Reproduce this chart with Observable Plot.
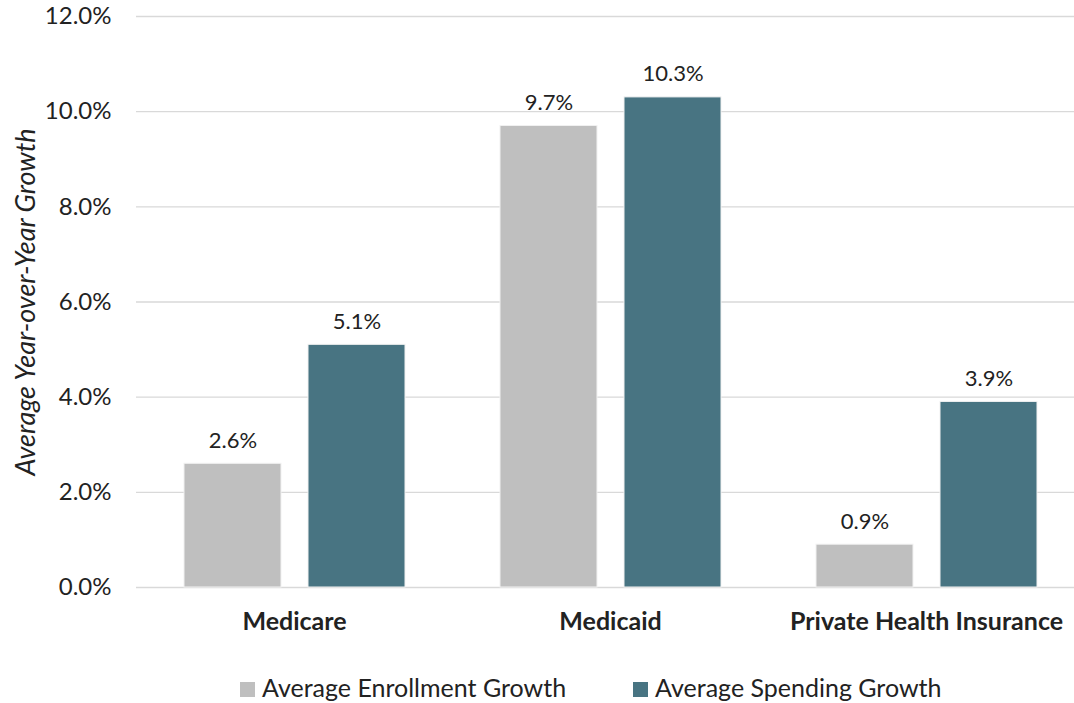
<!DOCTYPE html>
<html>
<head>
<meta charset="utf-8">
<script src="https://cdn.jsdelivr.net/npm/d3@7"></script>
<script src="https://cdn.jsdelivr.net/npm/@observablehq/plot@0.6"></script>
<style>
  html, body { margin: 0; padding: 0; background: #fff; }
  body { width: 1074px; height: 703px; overflow: hidden; font-family: Lato, "Open Sans", sans-serif; }
  #chart { width: 1074px; height: 645px; overflow: hidden; }
  #chart svg { max-width: none !important; }
  #legend { display: flex; align-items: center; margin-left: 240px; margin-top: 28px; height: 28px; line-height: 28px; font-size: 25px; color: #222; white-space: nowrap; }
  .item { display: flex; align-items: center; margin-right: 67px; }
  .sw { width: 15px; height: 15px; margin-right: 7px; display: inline-block; position: relative; top: 2px; }
</style>
</head>
<body>
<div id="chart"></div>
<div id="legend"></div>
<script>
const categories = ["Medicare", "Medicaid", "Private Health Insurance"];
const seriesNames = ["Average Enrollment Growth", "Average Spending Growth"];
const enrollment = [2.6, 9.7, 0.9];
const spending = [5.1, 10.3, 3.9];
const yTicks = [0, 2, 4, 6, 8, 10, 12];
const colors = ["#BFBFBF", "#487482"];
const yTitle = "Average Year-over-Year Growth";

const data = [];
categories.forEach((c, i) => {
  data.push({category: c, series: seriesNames[0], value: enrollment[i]});
  data.push({category: c, series: seriesNames[1], value: spending[i]});
});

const fmt = d => d.toFixed(1) + "%";

const chart = Plot.plot({
  width: 1084,
  height: 645,
  marginLeft: 135,
  marginRight: 0,
  marginTop: 16,
  marginBottom: 58,
  style: {fontFamily: "Lato, 'Open Sans', sans-serif", color: "#222", background: "#fff", maxWidth: "none"},
  fx: {domain: categories, padding: 0, label: null},
  x: {domain: seriesNames, paddingInner: 0.22, paddingOuter: 0.377, axis: null},
  y: {domain: [0, 12], label: null},
  color: {domain: seriesNames, range: colors},
  marks: [
    Plot.ruleY(yTicks, {stroke: "#d9d9d9", strokeWidth: 1.3}),
    Plot.barY(data, {fx: "category", x: "series", y: "value", fill: "series", stroke: "#f2f2f2", strokeWidth: 1}),
    Plot.text(data, {fx: "category", x: "series", y: "value", text: d => fmt(d.value), lineAnchor: "bottom", dy: -16, fontSize: 22, fill: "#222"}),
    Plot.axisY({ticks: yTicks, tickFormat: fmt, tickSize: 0, tickPadding: 25, fontSize: 24,
      label: yTitle, labelAnchor: "center", labelOffset: 121, labelArrow: "none"}),
    Plot.axisFx({anchor: "bottom", tickSize: 0, tickPadding: 25, fontSize: 25, fontWeight: "bold", label: null})
  ]
});
document.getElementById("chart").appendChild(chart);

// style the y-axis label: italic, no arrow
chart.querySelectorAll("g[aria-label='y-axis label']").forEach(g => {
  g.setAttribute("font-style", "italic");
  g.setAttribute("font-size", "27");
  g.querySelectorAll("text").forEach(t => {
    if (/[↑↓→←]/.test(t.textContent)) t.textContent = yTitle;
  });
});

const legend = document.getElementById("legend");
seriesNames.forEach((s, i) => {
  const it = document.createElement("span");
  it.className = "item";
  const sw = document.createElement("span");
  sw.className = "sw";
  sw.style.background = colors[i];
  it.appendChild(sw);
  it.appendChild(document.createTextNode(s));
  legend.appendChild(it);
});
</script>
</body>
</html>
